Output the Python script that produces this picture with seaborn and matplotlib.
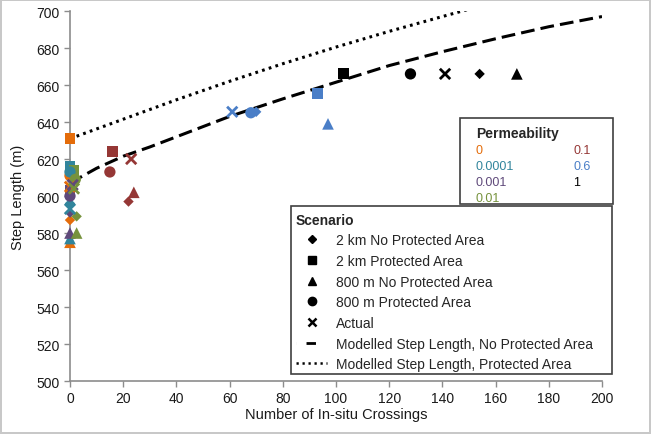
import matplotlib
matplotlib.use("Agg")
import matplotlib.pyplot as plt
from matplotlib.lines import Line2D
from matplotlib.patches import Rectangle
import pandas as pd
import seaborn as sns

sns.set_theme(style="ticks")
plt.rcParams["font.family"] = ["Liberation Sans", "DejaVu Sans"]

# permeability classes and their colours
PERMS = ["0", "0.0001", "0.001", "0.01", "0.1", "0.6", "1"]
PERM_COLORS = ["#E46C0A", "#31859C", "#5F497A", "#76923C", "#953735", "#4A7EC7", "#000000"]

# crossings / step length (m), one value per permeability (same order as PERMS)
km2_nopa_x = [0, 0, 0, 2.5, 22, 70, 154]
km2_nopa_y = [587, 596, 591, 589, 597, 645.5, 666]
km2_pa_x = [0, 0, 0, 1.5, 16, 93, 103]
km2_pa_y = [631, 616, 603, 614, 624, 655.5, 666]
m800_nopa_x = [0, 0, 0, 2.5, 24, 97, 168]
m800_nopa_y = [575, 577, 580, 580, 602, 639, 666]
m800_pa_x = [0, 0, 0, 2, 15, 68, 128]
m800_pa_y = [611, 613, 600, 609, 613, 645, 666]
actual_x = [0, 0, 1, 1.5, 23, 61, 141]
actual_y = [605, 593, 606, 604, 620, 645.5, 666]

# modelled step length curves
model_x = [0, 10, 20, 30, 40, 60, 80, 100, 120, 140, 160, 180, 200]
model_nopa = [607, 615, 621.5, 626.5, 632, 643, 652.5, 661.5, 670.5, 678, 685, 691.5, 697]
model_pa_x = [0, 20, 40, 60, 80, 100, 120, 140, 160]
model_pa = [631, 641.5, 652, 662, 671.5, 680.5, 689, 697, 705]

scenarios = {
    "2 km No Protected Area": (km2_nopa_x, km2_nopa_y),
    "2 km Protected Area": (km2_pa_x, km2_pa_y),
    "800 m No Protected Area": (m800_nopa_x, m800_nopa_y),
    "800 m Protected Area": (m800_pa_x, m800_pa_y),
    "Actual": (actual_x, actual_y),
}
marker_style = {
    "2 km No Protected Area": dict(marker="D", s=28, linewidth=0),
    "2 km Protected Area": dict(marker="s", s=62, linewidth=0),
    "800 m No Protected Area": dict(marker="^", s=70, linewidth=0),
    "800 m Protected Area": dict(marker="o", s=66, linewidth=0),
    "Actual": dict(marker="x", s=55, linewidth=2),
}

frames = []
for name, (xs, ys) in scenarios.items():
    frames.append(pd.DataFrame({"crossings": xs, "step": ys, "perm": PERMS, "scenario": name}))
df = pd.concat(frames, ignore_index=True)

fig = plt.figure(figsize=(6.51, 4.35), dpi=100, edgecolor="#c8c8c8", linewidth=1.5)
ax = fig.add_axes([0.1075, 0.1218, 0.8172, 0.8506])

sns.lineplot(x=model_x, y=model_nopa, color="black", linewidth=2.2, ax=ax, zorder=2)
ax.lines[-1].set_linestyle((0, (4.5, 2)))
sns.lineplot(x=model_pa_x, y=model_pa, color="black", linewidth=2.2, ax=ax, zorder=2)
ax.lines[-1].set_linestyle((0, (0.9, 1.4)))

for name in scenarios:
    sns.scatterplot(
        data=df[df["scenario"] == name],
        x="crossings",
        y="step",
        hue="perm",
        hue_order=PERMS,
        palette=PERM_COLORS,
        legend=False,
        ax=ax,
        zorder=3,
        clip_on=False,
        **marker_style[name]
    )

ax.set_xlim(0, 200)
ax.set_ylim(500, 700)
ax.set_xticks(range(0, 201, 20))
ax.set_yticks(range(500, 701, 20))
sns.despine(ax=ax)
for side in ["left", "bottom"]:
    ax.spines[side].set_color("#8c8c8c")
    ax.spines[side].set_linewidth(1.2)
ax.tick_params(direction="out", length=4, width=1, color="#8c8c8c", labelsize=10, labelcolor="#1a1a1a")
ax.set_xlabel("Number of In-situ Crossings", fontsize=10.5, color="#1a1a1a", labelpad=1)
ax.set_ylabel("Step Length (m)", fontsize=10.5, color="#1a1a1a", labelpad=8)

# legend frames drawn separately so the padding matches the original boxes
box_kw = dict(transform=ax.transAxes, facecolor="white", edgecolor="#404040",
              linewidth=1.2, clip_on=False, zorder=4)
ax.add_patch(Rectangle((0.4154, 0.0189), 1.0188 - 0.4154, 0.473 - 0.0189, **box_kw))
ax.add_patch(Rectangle((0.733, 0.4784), 1.0207 - 0.733, 0.7108 - 0.4784, **box_kw))

# scenario legend
scen_handles = [
    Line2D([], [], marker="D", color="black", linestyle="none", markersize=4.5),
    Line2D([], [], marker="s", color="black", linestyle="none", markersize=5.5),
    Line2D([], [], marker="^", color="black", linestyle="none", markersize=6),
    Line2D([], [], marker="o", color="black", linestyle="none", markersize=6),
    Line2D([], [], marker="x", color="black", linestyle="none", markersize=6, markeredgewidth=1.8),
    Line2D([], [], color="black", linewidth=2, linestyle=(0, (0.01, 3.6, 3.4, 10))),
    Line2D([], [], color="black", linewidth=1.8, linestyle=(0, (0.9, 1.5))),
]
scen_labels = list(scenarios) + ["Modelled Step Length, No Protected Area",
                                 "Modelled Step Length, Protected Area"]
leg1 = ax.legend(scen_handles, scen_labels, title="Scenario", loc="upper left",
                 bbox_to_anchor=(0.4248, 0.455), frameon=False, fontsize=10,
                 alignment="left", title_fontproperties={"weight": "bold", "size": 10},
                 borderpad=0, labelspacing=0.48, handlelength=2.25, handletextpad=0.6,
                 borderaxespad=0)
leg1.set_zorder(5)
ax.add_artist(leg1)

# permeability legend (coloured text only)
perm_handles = [Line2D([], [], linestyle="none") for _ in PERMS]
leg2 = ax.legend(perm_handles, PERMS, title="Permeability", ncol=2, loc="upper left",
                 bbox_to_anchor=(0.763, 0.69), frameon=False, fontsize=9,
                 alignment="left", title_fontproperties={"weight": "bold", "size": 10},
                 borderpad=0, labelspacing=0.32, handlelength=0, handletextpad=0,
                 columnspacing=4.7, borderaxespad=0)
leg2.set_zorder(5)
for txt, col in zip(leg2.get_texts(), PERM_COLORS):
    txt.set_color(col)

fig.savefig("out.png", dpi=100)
